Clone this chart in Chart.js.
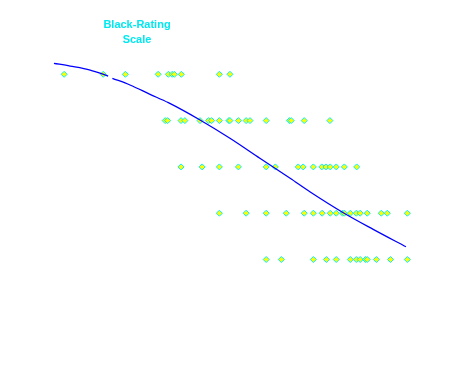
<!DOCTYPE html>
<html>
<head>
<meta charset="utf-8">
<script src="https://cdn.jsdelivr.net/npm/chart.js@4/dist/chart.umd.min.js"></script>
<style>
    html, body { margin: 0; padding: 0; background: #fff; }
    #wrap { position: relative; width: 451px; height: 374px; }
    #title {
        position: absolute; left: 77px; top: 17px; width: 120px;
        text-align: center; font: bold 11px "Liberation Sans", Arial, sans-serif;
        line-height: 15px; color: #00e8f0;
    }
</style>
</head>
<body>
<div id="wrap">
    <canvas id="chart" width="451" height="374"></canvas>
    <div id="title">Black-Rating<br>Scale</div>
</div>
<script>
// rating levels (rows, top = 5)
const levels = [5, 4, 3, 2, 1];

// scores of the observations in each rating row
const scoresLevel5 = [0.26, 1.37, 2.00, 2.93, 3.22, 3.33, 3.39, 3.59, 4.67, 4.97];
const scoresLevel4 = [3.13, 3.20, 3.58, 3.69, 4.12, 4.36, 4.45, 4.67, 4.94, 4.97, 5.21, 5.43, 5.54, 6.00, 6.66, 6.71, 7.08, 7.81];
const scoresLevel3 = [3.58, 4.18, 4.67, 5.21, 6.00, 6.26, 6.91, 7.05, 7.34, 7.58, 7.70, 7.82, 7.99, 8.22, 8.57];
const scoresLevel2 = [4.67, 5.43, 6.00, 6.57, 7.08, 7.34, 7.59, 7.82, 7.99, 8.17, 8.22, 8.39, 8.56, 8.67, 8.87, 9.27, 9.44, 10.01];
const scoresLevel1 = [6.00, 6.43, 7.34, 7.71, 7.99, 8.39, 8.56, 8.67, 8.82, 8.87, 9.13, 9.53, 10.01];

// fitted expected rating curve (null = small break in the drawn line)
const curveScores = [-0.03, 0.43, 1.00, 1.51, 1.57, 1.63, 2.13, 2.70, 3.22, 4.12, 4.97, 5.82, 6.68, 7.24, 8.19, 9.04, 9.97];
const curveLevels = [5.238, 5.179, 5.093, 4.963, null, 4.914, 4.769, 4.568, 4.387, 4.013, 3.618, 3.186, 2.754, 2.464, 2.011, 1.652, 1.276];

const rows = [scoresLevel5, scoresLevel4, scoresLevel3, scoresLevel2, scoresLevel1];

const pointData = [];
rows.forEach((scores, i) => {
    for (const s of scores) pointData.push({ x: s, y: levels[i] });
});
const curveData = curveScores.map((s, i) => ({ x: s, y: curveLevels[i] }));

new Chart(document.getElementById("chart").getContext("2d"), {
    type: "scatter",
    data: {
        datasets: [
            {
                data: curveData,
                showLine: true,
                spanGaps: false,
                borderColor: "#0000ff",
                borderWidth: 1.3,
                pointRadius: 0,
                cubicInterpolationMode: "monotone",
                order: 0,
            },
            {
                data: pointData,
                pointStyle: "rectRot",
                pointRadius: 3,
                pointBackgroundColor: "#ffff00",
                pointBorderColor: "#00f0ff",
                pointBorderWidth: 1,
                order: 1,
            },
        ],
    },
    options: {
        responsive: false,
        animation: false,
        layout: { padding: 0, autoPadding: false },
        plugins: { legend: { display: false }, tooltip: { enabled: false }, title: { display: false } },
        scales: {
            x: { type: "linear", min: -1.5625, max: 11.25, display: false },
            y: { type: "linear", min: -1.473, max: 6.605, display: false },
        },
    },
});
</script>
</body>
</html>
